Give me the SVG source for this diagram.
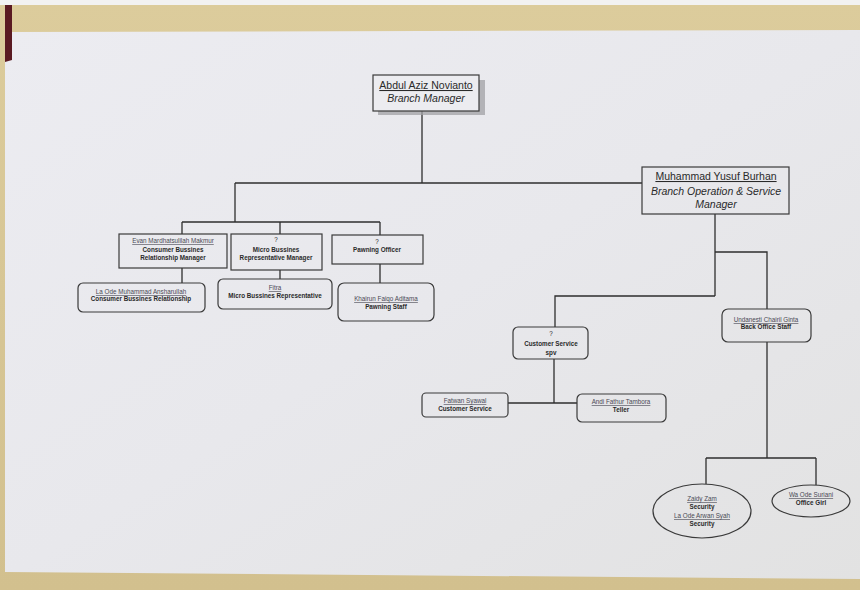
<svg xmlns="http://www.w3.org/2000/svg" width="860" height="590" viewBox="0 0 860 590">
<defs>
<linearGradient id="paper" x1="0" y1="0" x2="1" y2="1">
<stop offset="0" stop-color="#ececf1"/>
<stop offset="0.5" stop-color="#e8e8ec"/>
<stop offset="1" stop-color="#e2e2e2"/>
</linearGradient>
<linearGradient id="table" x1="0" y1="0" x2="0" y2="1">
<stop offset="0" stop-color="#dccc9c"/>
<stop offset="1" stop-color="#d2c08e"/>
</linearGradient>
<style>
.box{fill:none;stroke:#3a3a3a;stroke-width:1.2}
.conn line,.conn polyline{stroke:#2e2e2e;stroke-width:1.3;fill:none}
text{font-family:"Liberation Sans",Arial,sans-serif;fill:#2a2a2a;text-anchor:middle}
.big{font-size:10.5px}
.bigi{font-size:10.5px;font-style:italic}
.nm{font-size:6.3px;text-decoration:underline;fill:#4a4a55}
.rl{font-size:6.3px;font-weight:bold}
</style>
</defs>
<rect x="0" y="0" width="860" height="590" fill="url(#table)"/>
<rect x="0" y="0" width="860" height="5" fill="#f2f2f2"/>
<polygon points="5,32 860,30 860,579 5,572" fill="url(#paper)"/>
<path d="M5,5 L12,5 L12,60 L5,62 Z" fill="#5a1a22"/>

<g class="conn">
<line x1="422" y1="111" x2="422" y2="183"/>
<line x1="235" y1="183" x2="642" y2="183"/>
<line x1="235" y1="183" x2="235" y2="222"/>
<line x1="182" y1="222" x2="380" y2="222"/>
<line x1="182" y1="222" x2="182" y2="234"/>
<line x1="280" y1="222" x2="280" y2="234"/>
<line x1="380" y1="222" x2="380" y2="235"/>
<line x1="182" y1="268" x2="182" y2="283"/>
<line x1="280" y1="270" x2="280" y2="279"/>
<line x1="380" y1="264" x2="380" y2="283"/>
<line x1="715" y1="214" x2="715" y2="296"/>
<polyline points="715,252 767,252 767,309"/>
<polyline points="715,296 555,296 555,327"/>
<line x1="554" y1="359" x2="554" y2="403"/>
<line x1="508" y1="403" x2="577" y2="403"/>
<line x1="767" y1="342" x2="767" y2="458"/>
<line x1="706" y1="458" x2="816" y2="458"/>
<line x1="706" y1="458" x2="706" y2="484"/>
<line x1="816" y1="458" x2="816" y2="485"/>
</g>

<g id="n-branch-manager">
<rect x="378" y="80" width="107" height="35" fill="#a0a0a4" opacity="0.75"/>
<rect x="373" y="75" width="106" height="36" class="box" style="fill:#ececf0"/>
<text class="big" x="426" y="89" style="text-decoration:underline">Abdul Aziz Novianto</text>
<text class="bigi" x="426" y="102">Branch Manager</text>
</g>

<g id="n-bosm">
<rect x="642" y="167" width="147" height="47" class="box"/>
<text class="big" x="716" y="180" style="text-decoration:underline">Muhammad Yusuf Burhan</text>
<text class="bigi" x="716" y="195">Branch Operation &amp; Service</text>
<text class="bigi" x="716" y="208">Manager</text>
</g>

<g id="n-cbrm">
<rect x="119" y="234" width="108" height="34" class="box"/>
<text class="nm" x="173" y="243">Evan Mardhatsulilah Makmur</text>
<text class="rl" x="173" y="252">Consumer Bussines</text>
<text class="rl" x="173" y="260">Relationship Manager</text>
</g>

<g id="n-mbrm">
<rect x="231" y="234" width="91" height="36" class="box"/>
<text class="rl" x="276" y="242" style="font-weight:normal">?</text>
<text class="rl" x="276" y="252">Micro Bussines</text>
<text class="rl" x="276" y="260">Representative Manager</text>
</g>

<g id="n-pawning-officer">
<rect x="332" y="235" width="91" height="29" class="box"/>
<text class="rl" x="377" y="244" style="font-weight:normal">?</text>
<text class="rl" x="377" y="252">Pawning Officer</text>
</g>

<g id="n-cbr">
<rect x="78" y="283" width="127" height="29" rx="5" class="box"/>
<text class="nm" x="141" y="294">La Ode Muhammad Ansharullah</text>
<text class="rl" x="141" y="301">Consumer Bussines Relationship</text>
</g>

<g id="n-mbr">
<rect x="218" y="279" width="114" height="30" rx="5" class="box"/>
<text class="nm" x="275" y="290">Fitra</text>
<text class="rl" x="275" y="298">Micro Bussines Representative</text>
</g>

<g id="n-pawning-staff">
<rect x="338" y="283" width="96" height="38" rx="6" class="box"/>
<text class="nm" x="386" y="301">Khairun Faiqo Aditama</text>
<text class="rl" x="386" y="309">Pawning Staff</text>
</g>

<g id="n-cs-spv">
<rect x="513" y="327" width="75" height="32" rx="5" class="box"/>
<text class="rl" x="551" y="336" style="font-weight:normal">?</text>
<text class="rl" x="551" y="346">Customer Service</text>
<text class="rl" x="551" y="355">spv</text>
</g>

<g id="n-back-office">
<rect x="722" y="309" width="89" height="33" rx="6" class="box"/>
<text class="nm" x="766" y="322">Undanesti Chairil Ginta</text>
<text class="rl" x="766" y="329">Back Office Staff</text>
</g>

<g id="n-cs">
<rect x="422" y="393" width="86" height="24" rx="4" class="box"/>
<text class="nm" x="465" y="403">Fatwan Syawal</text>
<text class="rl" x="465" y="411">Customer Service</text>
</g>

<g id="n-teller">
<rect x="577" y="394" width="89" height="28" rx="5" class="box"/>
<text class="nm" x="621" y="404">Andi Fathur Tambora</text>
<text class="rl" x="621" y="412">Teller</text>
</g>

<g id="n-security">
<ellipse cx="702" cy="511" rx="49" ry="27" class="box"/>
<text class="nm" x="702" y="501">Zaidy Zam</text>
<text class="rl" x="702" y="509">Security</text>
<text class="nm" x="702" y="518">La Ode Arwan Syah</text>
<text class="rl" x="702" y="526">Security</text>
</g>

<g id="n-office-girl">
<ellipse cx="811" cy="501" rx="39" ry="16" class="box"/>
<text class="nm" x="811" y="497">Wa Ode Suriani</text>
<text class="rl" x="811" y="505">Office Girl</text>
</g>
</svg>
